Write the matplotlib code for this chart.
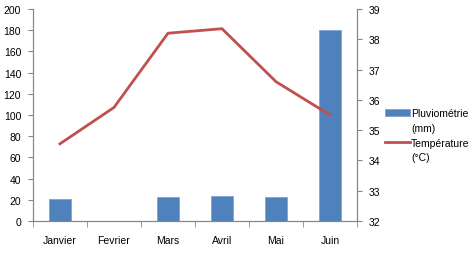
import numpy as np
import matplotlib
matplotlib.use("Agg")
import matplotlib.pyplot as plt
from matplotlib.patches import Rectangle

mois = ["Janvier", "Fevrier", "Mars", "Avril", "Mai", "Juin"]
pluie = [21, 0, 22.5, 23.5, 22.5, 180]
temperature = [34.55, 35.75, 38.2, 38.35, 36.6, 35.5]

plt.rcParams['font.family'] = ['Liberation Sans', 'DejaVu Sans']
grey = "#868686"

fig = plt.figure(figsize=(4.75, 2.55), dpi=100)
ax = fig.add_axes([33 / 475, 1 - 222 / 255, 324 / 475, 212 / 255])
x = np.arange(len(mois))
bars = ax.bar(x, pluie, width=0.4, color="#4F81BD", edgecolor="#7FA3D0", linewidth=0.6,
              zorder=2)
ax.set_xlim(-0.5, len(mois) - 0.5)
ax.set_ylim(0, 200)
ax.set_yticks(np.arange(0, 201, 20))
ax.set_xticks(x)
ax.set_xticklabels(mois)
ax.set_xticks(np.arange(-0.5, len(mois), 1), minor=True)
ax.tick_params(axis="x", which="major", length=0, pad=10, labelsize=7.5)
ax.tick_params(axis="x", which="minor", length=4, color=grey)
ax.tick_params(axis="y", length=3.5, color=grey, labelsize=7.5, pad=5)
ax.spines["top"].set_visible(False)
for s in ["left", "bottom", "right"]:
    ax.spines[s].set_color(grey)

ax2 = ax.twinx()
line, = ax2.plot(x, temperature, color="#C0504D", linewidth=2)
ax2.set_ylim(32, 39)
ax2.set_yticks(np.arange(32, 40, 1))
ax2.tick_params(axis="y", length=3.5, color=grey, labelsize=7.5, pad=5)
ax2.spines["top"].set_visible(False)
for s in ["left", "bottom", "right"]:
    ax2.spines[s].set_color(grey)

blank = Rectangle((0, 0), 1, 1, alpha=0)
fig.legend([bars, blank, line, blank],
           ["Pluviométrie", "(mm)", "Température", "(°C)"],
           loc="upper left", bbox_to_anchor=(380 / 475, 1 - 104 / 255),
           frameon=False, fontsize=7.5, handlelength=2.4, handleheight=0.6,
           handletextpad=0.1, borderpad=0, labelspacing=0.45)

fig.savefig("out.png", dpi=100)
